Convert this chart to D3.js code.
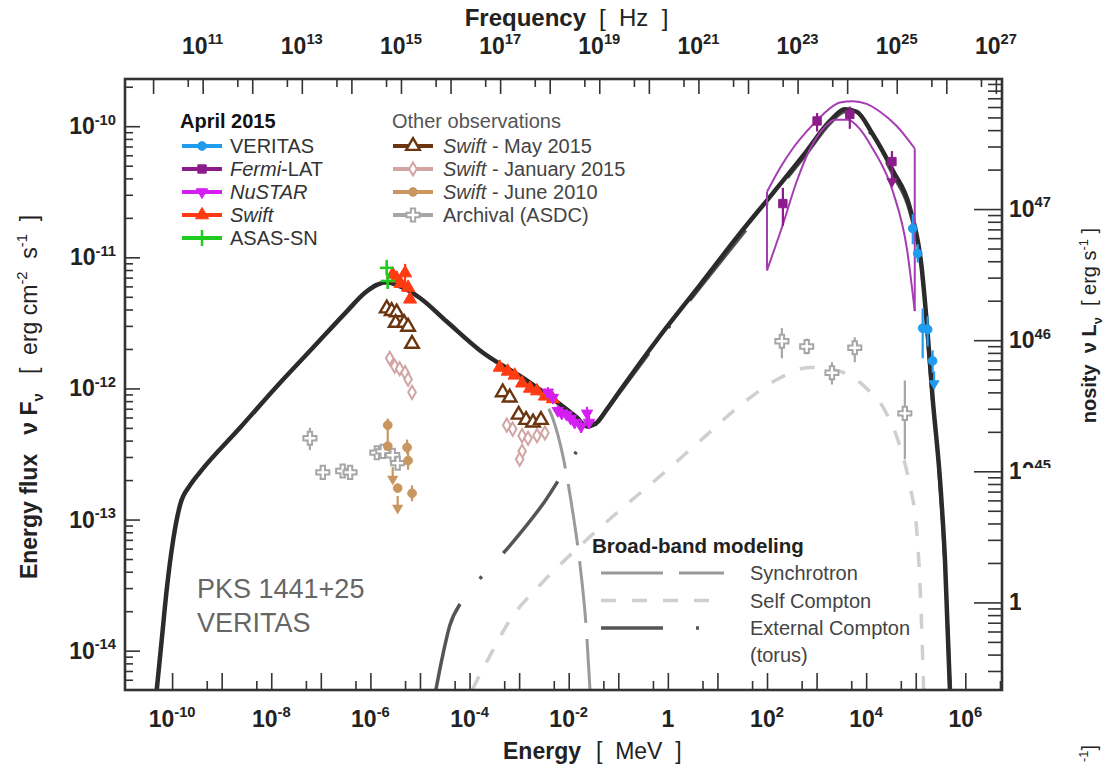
<!DOCTYPE html>
<html>
<head>
<meta charset="utf-8">
<script src="https://cdn.jsdelivr.net/npm/d3@7"></script>
<style>
  body { margin: 0; background: #fff; }
  text { font-family: "Liberation Sans", Arial, sans-serif; white-space: pre; }
</style>
</head>
<body>
<svg id="chart" width="1105" height="767"></svg>
<script>
// All values are log10: [log10 E (MeV), log10 νFν (erg cm^-2 s^-1), log10 lower, log10 upper]

// ---- broad-band model curves ----
const totalModel = [[-10.31,-14.30],[-10.21,-13.92],[-10.11,-13.54],[-9.98,-13.16],[-9.84,-12.89],[-9.64,-12.74],[-9.44,-12.64],[-8.63,-12.30],[-7.83,-11.96],[-7.16,-11.69],[-6.47,-11.41],[-6.11,-11.27],[-5.87,-11.21],[-5.67,-11.19],[-5.41,-11.22],[-5.00,-11.31],[-4.46,-11.49],[-3.79,-11.71],[-2.84,-11.94],[-2.18,-12.12],[-1.84,-12.22],[-1.63,-12.29],[-1.43,-12.26],[-1.23,-12.16],[-0.97,-12.02],[-0.16,-11.60],[0.65,-11.21],[1.45,-10.82],[2.12,-10.51],[2.80,-10.19],[3.27,-9.96],[3.57,-9.87],[3.81,-9.89],[4.13,-10.06],[4.54,-10.34],[4.88,-10.62],[5.12,-11.08],[5.24,-11.58],[5.34,-12.07],[5.49,-12.70],[5.59,-13.31],[5.69,-14.30]];
const synchrotron = [[-10.31,-14.30],[-10.21,-13.92],[-10.11,-13.54],[-9.98,-13.16],[-9.84,-12.89],[-9.64,-12.74],[-9.44,-12.64],[-8.63,-12.30],[-7.83,-11.96],[-7.16,-11.69],[-6.47,-11.41],[-6.11,-11.27],[-5.87,-11.21],[-5.67,-11.19],[-5.41,-11.22],[-5.00,-11.31],[-4.46,-11.49],[-3.79,-11.71],[-2.84,-11.96],[-2.58,-12.05],[-2.32,-12.23],[-2.12,-12.51],[-1.94,-12.89],[-1.77,-13.35],[-1.65,-13.81],[-1.57,-14.30]];
const selfCompton = [[-3.95,-14.30],[-3.59,-14.04],[-3.19,-13.77],[-2.58,-13.50],[-1.77,-13.20],[-0.97,-12.93],[-0.16,-12.67],[0.65,-12.40],[1.59,-12.09],[2.26,-11.92],[2.86,-11.84],[3.47,-11.87],[4.01,-12.00],[4.38,-12.17],[4.68,-12.44],[4.88,-12.74],[5.02,-13.08],[5.10,-13.62],[5.16,-14.30]];
const externalCompton = [[-4.68,-14.30],[-4.56,-14.07],[-4.40,-13.81],[-4.15,-13.62],[-3.79,-13.45],[-3.19,-13.20],[-2.48,-12.86],[-1.84,-12.48],[-1.37,-12.23],[-0.97,-12.03],[-0.16,-11.62],[0.65,-11.23],[1.45,-10.85],[2.12,-10.53],[2.80,-10.21],[3.27,-9.98],[3.57,-9.89],[3.81,-9.91],[4.13,-10.08],[4.54,-10.37],[4.88,-10.65],[5.12,-11.10],[5.24,-11.61],[5.34,-12.09],[5.49,-12.73],[5.59,-13.34],[5.69,-14.30]];

// ---- Fermi-LAT butterfly ----
const fermiBowUpper = [[2.00,-10.50],[2.26,-10.32],[2.52,-10.17],[2.80,-10.04],[3.13,-9.91],[3.47,-9.82],[3.73,-9.81],[4.01,-9.83],[4.28,-9.89],[4.62,-10.00],[4.98,-10.17]];
const fermiBowLower = [[2.00,-11.10],[2.32,-10.75],[2.60,-10.42],[2.86,-10.18],[3.13,-10.02],[3.37,-9.95],[3.63,-9.95],[3.87,-10.02],[4.13,-10.17],[4.54,-10.50],[4.82,-10.93],[4.98,-11.41]];

// ---- April 2015 ----
const veritas = [[4.94,-10.78,-10.90,-10.67],[5.04,-10.97,-11.04,-10.90],[5.14,-11.54,-11.77,-11.39],[5.24,-11.55,-11.68,-11.45],[5.34,-11.79,-11.88,-11.71]];
const veritasUL = [[5.37,-11.87]];
const fermiLAT = [[2.32,-10.59,-10.76,-10.47],[3.01,-9.96,-10.04,-9.90],[3.67,-9.91,-10.02,-9.85],[4.52,-10.27,-10.33,-10.19]];
const fermiUL = [[4.52,-10.33]];
const nustar = [[-2.42,-12.03,-12.07,-11.99],[-2.32,-12.07,-12.11,-12.03],[-2.22,-12.17,-12.21,-12.13],[-2.14,-12.19,-12.23,-12.15],[-2.04,-12.20,-12.24,-12.16],[-1.96,-12.23,-12.27,-12.19],[-1.88,-12.26,-12.30,-12.22],[-1.75,-12.29,-12.34,-12.24],[-1.63,-12.19,-12.24,-12.14],[-1.59,-12.26,-12.31,-12.21]];
const swiftApr = [[-5.55,-11.13],[-5.47,-11.16],[-5.39,-11.20],[-5.30,-11.12,-11.26,-11.05],[-5.24,-11.23],[-5.20,-11.32],[-3.39,-11.84],[-3.23,-11.87],[-3.09,-11.90],[-2.94,-11.96],[-2.78,-12.00],[-2.64,-12.02],[-2.48,-12.06],[-2.32,-12.08]];
const asassn = [[-5.67,-11.08,-11.13,-11.03],[-5.65,-11.18,-11.24,-11.13]];

// ---- other observations ----
const swiftMay = [[-5.67,-11.39],[-5.57,-11.41],[-5.47,-11.42],[-5.49,-11.50],[-5.32,-11.50],[-5.24,-11.53],[-5.16,-11.66],[-3.33,-12.03],[-3.19,-12.07],[-3.01,-12.20],[-2.86,-12.24],[-2.72,-12.26],[-2.56,-12.24]];
const swiftJan = [[-5.61,-11.77],[-5.51,-11.83],[-5.41,-11.85],[-5.30,-11.88],[-5.24,-11.93],[-5.16,-12.03],[-3.25,-12.28],[-3.13,-12.31],[-2.94,-12.36],[-2.82,-12.38],[-2.64,-12.36],[-2.48,-12.34],[-2.94,-12.48],[-2.99,-12.54]];
const swiftJun2010 = [[-5.65,-12.28,-12.41,-12.23],[-5.65,-12.44],[-5.26,-12.45,-12.50,-12.39],[-5.24,-12.55,-12.62,-12.48],[-5.45,-12.76],[-5.16,-12.80,-12.86,-12.74]];
const swiftJun2010UL = [[-5.55,-12.60],[-5.45,-12.82]];
const archival = [[-7.22,-12.38,-12.47,-12.30],[-6.96,-12.64],[-6.56,-12.63],[-6.41,-12.64],[-5.87,-12.49],[-5.75,-12.48],[-5.55,-12.51],[-5.45,-12.57],[2.30,-11.64,-11.77,-11.54],[2.80,-11.68,-11.74,-11.62],[3.31,-11.88,-11.97,-11.80],[3.77,-11.69,-11.80,-11.61],[4.78,-12.19,-12.54,-11.94]];

// ---- axis ticks ----
const energyLabelExps = [-10,-8,-6,-4,-2,0,2,4,6];
const freqLabelExps = [11,13,15,17,19,21,23,25,27];
const fluxLabelExps = [-10,-11,-12,-13,-14];
const lumLabelExps = [47,46,45,44];

// ---- legends ----
const aprilLegend = [
  {parts:[{t:"VERITAS"}], color:"#1f9bef", sym:"circle"},
  {parts:[{t:"Fermi",i:true},{t:"-LAT"}], color:"#8c1c8c", sym:"square"},
  {parts:[{t:"NuSTAR",i:true}], color:"#d31ff2", sym:"down"},
  {parts:[{t:"Swift",i:true}], color:"#ff3b12", sym:"up"},
  {parts:[{t:"ASAS-SN"}], color:"#1fcc1f", sym:"bar"}
];
const otherLegend = [
  {parts:[{t:"Swift",i:true},{t:" - May 2015"}], color:"#6b3510", sym:"upOpen"},
  {parts:[{t:"Swift",i:true},{t:" - January 2015"}], color:"#d2a4a4", sym:"diamondOpen"},
  {parts:[{t:"Swift",i:true},{t:" - June 2010"}], color:"#c99660", sym:"circle"},
  {parts:[{t:"Archival (ASDC)"}], color:"#a6a6a6", sym:"crossOpen"}
];
const modelLegend = [
  {label:"Synchrotron", color:"#9a9a9a", dash:"62,16", width:3},
  {label:"Self Compton", color:"#cfcfcf", dash:"15,16", width:3.5},
  {label:"External Compton", color:"#555555", dash:"62,33,3,200", width:3.5}
];

// ---------------------------------------------------------------
const svg = d3.select("#chart");
const X0 = 125, X1 = 1002, Y0 = 79, Y1 = 690;
const HZ_PER_MEV = 2.417989e20;
const LUM_PER_FLUX = Math.pow(10, 57.632);

const x = d3.scaleLog().domain([Math.pow(10,-10.95), Math.pow(10,6.74)]).range([X0, X1]);
const y = d3.scaleLog().domain([Math.pow(10,-14.30), Math.pow(10,-9.64)]).range([Y1, Y0]);
const xf = d3.scaleLog().domain(x.domain().map(e => e * HZ_PER_MEV)).range([X0, X1]);
const yl = d3.scaleLog().domain(y.domain().map(f => f * LUM_PER_FLUX)).range([Y1, Y0]);

const toPt = d => ({e: Math.pow(10, d[0]), f: Math.pow(10, d[1]),
  lo: d[2] != null ? Math.pow(10, d[2]) : null, hi: d[3] != null ? Math.pow(10, d[3]) : null});

// rich text with super/subscripts
function rich(sel, parts, size) {
  let off = 0;
  parts.forEach(p => {
    const shift = p.sup ? -0.42 * size : p.sub ? 0.28 * size : 0;
    const ts = sel.append("tspan").text(p.t).attr("dy", shift - off);
    off = shift;
    if (p.sup || p.sub) ts.attr("font-size", size * 0.64);
    if (p.b != null) ts.attr("font-weight", p.b ? "bold" : "normal");
    if (p.i) ts.attr("font-style", "italic");
  });
  return sel;
}

// ---- clip ----
svg.append("defs").append("clipPath").attr("id", "plotClip")
  .append("rect").attr("x", X0).attr("y", Y0).attr("width", X1 - X0).attr("height", Y1 - Y0);

const plot = svg.append("g").attr("clip-path", "url(#plotClip)");

const line = d3.line().x(d => x(d.e)).y(d => y(d.f)).curve(d3.curveMonotoneX);

// model components
plot.append("path").datum(selfCompton.map(toPt)).attr("d", line)
  .attr("fill", "none").attr("stroke", "#cfcfcf").attr("stroke-width", 3.5).attr("stroke-dasharray", "15,16");
plot.append("path").datum(synchrotron.map(toPt)).attr("d", line)
  .attr("fill", "none").attr("stroke", "#9a9a9a").attr("stroke-width", 3).attr("stroke-dasharray", "62,16");
plot.append("path").datum(externalCompton.map(toPt)).attr("d", line)
  .attr("fill", "none").attr("stroke", "#555").attr("stroke-width", 3.5).attr("stroke-dasharray", "90,32,3,32");
plot.append("path").datum(totalModel.map(toPt)).attr("d", line)
  .attr("fill", "none").attr("stroke", "#2b2b2b").attr("stroke-width", 4.5).attr("stroke-linejoin", "round");

// Fermi butterfly
const bowU = fermiBowUpper.map(toPt), bowL = fermiBowLower.map(toPt);
const bowColor = "#a63cb3";
[bowU, bowL].forEach(arr => plot.append("path").datum(arr).attr("d", line)
  .attr("fill", "none").attr("stroke", bowColor).attr("stroke-width", 2));
[[bowU[0], bowL[0]], [bowU[bowU.length-1], bowL[bowL.length-1]]].forEach(([a, b]) =>
  plot.append("line").attr("x1", x(a.e)).attr("x2", x(b.e)).attr("y1", y(a.f)).attr("y2", y(b.f))
    .attr("stroke", bowColor).attr("stroke-width", 2));

// markers
const symbolPath = {
  circle: d3.symbol().type(d3.symbolCircle).size(60)(),
  square: d3.symbol().type(d3.symbolSquare).size(70)(),
  up: d3.symbol().type(d3.symbolTriangle).size(75)(),
  down: d3.symbol().type(d3.symbolTriangle).size(55)(),
  upOpen: d3.symbol().type(d3.symbolTriangle).size(80)(),
  diamondOpen: d3.symbol().type(d3.symbolDiamond).size(50)(),
  crossOpen: d3.symbol().type(d3.symbolCross).size(95)()
};
function drawMarker(g, cx, cy, sym, color) {
  if (sym === "bar") {
    g.append("line").attr("x1", cx - 7).attr("x2", cx + 7).attr("y1", cy).attr("y2", cy)
      .attr("stroke", color).attr("stroke-width", 2.5);
    g.append("line").attr("x1", cx).attr("x2", cx).attr("y1", cy - 8).attr("y2", cy + 8)
      .attr("stroke", color).attr("stroke-width", 2.5);
    return;
  }
  const open = /Open/.test(sym);
  const p = g.append("path").attr("d", symbolPath[sym])
    .attr("transform", `translate(${cx},${cy})` + (sym === "down" ? " rotate(180)" : ""))
    .attr("fill", open ? "#fff" : color).attr("stroke", color).attr("stroke-width", open ? 2 : 1);
  if (sym === "upOpen") p.attr("stroke-width", 2.4);
}
function drawSeries(data, sym, color) {
  const g = plot.append("g");
  const pts = data.map(toPt);
  pts.forEach(p => {
    if (p.lo != null) g.append("line").attr("x1", x(p.e)).attr("x2", x(p.e))
      .attr("y1", y(p.lo)).attr("y2", y(p.hi)).attr("stroke", color).attr("stroke-width", 2.2);
    g.append("line").attr("x1", x(p.e) - 4).attr("x2", x(p.e) + 4).attr("y1", y(p.f)).attr("y2", y(p.f))
      .attr("stroke", color).attr("stroke-width", 1.6);
  });
  pts.forEach(p => drawMarker(g, x(p.e), y(p.f), sym, color));
}
function drawUpperLimits(data, color) {
  const g = plot.append("g");
  data.map(toPt).forEach(p => {
    const cx = x(p.e), cy = y(p.f);
    g.append("line").attr("x1", cx).attr("x2", cx).attr("y1", cy).attr("y2", cy + 10)
      .attr("stroke", color).attr("stroke-width", 2.2);
    g.append("path").attr("d", symbolPath.down).attr("transform", `translate(${cx},${cy + 12}) rotate(180)`)
      .attr("fill", color);
  });
}

drawSeries(archival, "crossOpen", "#a6a6a6");
drawSeries(swiftJun2010, "circle", "#c99660");
drawUpperLimits(swiftJun2010UL, "#c99660");
drawSeries(swiftJan, "diamondOpen", "#d2a4a4");
drawSeries(swiftMay, "upOpen", "#6b3510");
drawSeries(swiftApr, "up", "#ff3b12");
drawSeries(nustar, "down", "#d31ff2");
drawSeries(asassn, "bar", "#1fcc1f");
drawSeries(fermiLAT, "square", "#8c1c8c");
drawUpperLimits(fermiUL, "#8c1c8c");
drawSeries(veritas, "circle", "#1f9bef");
drawUpperLimits(veritasUL, "#1f9bef");

// ---- axes ----
const axisColor = "#333";
function styleAxis(g) {
  g.select(".domain").remove();
  g.selectAll(".tick line").attr("stroke", axisColor).attr("stroke-width", 1.6);
  g.selectAll(".tick text").remove();
}
const decades = (a, b) => d3.range(a, b + 1).map(k => Math.pow(10, k));
const fives = (a, b) => d3.range(a, b + 1).map(k => 5 * Math.pow(10, k));
const logMinors = (a, b) => d3.range(a, b + 1).flatMap(k => [2,3,4,5,6,7,8,9].map(m => m * Math.pow(10, k)));
const inDom = (sc) => v => v >= sc.domain()[0] && v <= sc.domain()[1];

// bottom: energy
svg.append("g").attr("transform", `translate(0,${Y1})`)
  .call(d3.axisTop(x).tickValues(decades(-11, 7).filter(inDom(x))).tickSize(17)).call(styleAxis);
svg.append("g").attr("transform", `translate(0,${Y1})`)
  .call(d3.axisTop(x).tickValues(fives(-11, 7).filter(inDom(x))).tickSize(9)).call(styleAxis);
// top: frequency
svg.append("g").attr("transform", `translate(0,${Y0})`)
  .call(d3.axisBottom(xf).tickValues(decades(10, 28).filter(inDom(xf))).tickSize(15)).call(styleAxis);
svg.append("g").attr("transform", `translate(0,${Y0})`)
  .call(d3.axisBottom(xf).tickValues(fives(10, 28).filter(inDom(xf))).tickSize(8)).call(styleAxis);
// left: flux
svg.append("g").attr("transform", `translate(${X0},0)`)
  .call(d3.axisRight(y).tickValues(decades(-15, -9).filter(inDom(y))).tickSize(15)).call(styleAxis);
svg.append("g").attr("transform", `translate(${X0},0)`)
  .call(d3.axisRight(y).tickValues(logMinors(-15, -10).filter(inDom(y))).tickSize(8)).call(styleAxis);
// right: luminosity
svg.append("g").attr("transform", `translate(${X1},0)`)
  .call(d3.axisLeft(yl).tickValues(decades(43, 48).filter(inDom(yl))).tickSize(28)).call(styleAxis);
svg.append("g").attr("transform", `translate(${X1},0)`)
  .call(d3.axisLeft(yl).tickValues(logMinors(42, 48).filter(inDom(yl))).tickSize(14)).call(styleAxis);

// frame
svg.append("rect").attr("x", X0).attr("y", Y0).attr("width", X1 - X0).attr("height", Y1 - Y0)
  .attr("fill", "none").attr("stroke", axisColor).attr("stroke-width", 2.6);

// tick labels
const TL = 23;
energyLabelExps.forEach(k => {
  const t = svg.append("text").attr("x", x(Math.pow(10, k))).attr("y", 727)
    .attr("text-anchor", "middle").attr("font-size", TL).attr("font-weight", "bold").attr("fill", "#222");
  if (k === 0) t.text("1"); else rich(t, [{t:"10"},{t:String(k), sup:true}], TL);
});
freqLabelExps.forEach(k => {
  const t = svg.append("text").attr("x", xf(Math.pow(10, k))).attr("y", 54)
    .attr("text-anchor", "middle").attr("font-size", TL).attr("font-weight", "bold").attr("fill", "#222");
  rich(t, [{t:"10"},{t:String(k), sup:true}], TL);
});
fluxLabelExps.forEach(k => {
  const t = svg.append("text").attr("x", 116).attr("y", y(Math.pow(10, k)) + 8)
    .attr("text-anchor", "end").attr("font-size", TL).attr("font-weight", "bold").attr("fill", "#222");
  rich(t, [{t:"10"},{t:String(k), sup:true}], TL);
});
lumLabelExps.forEach(k => {
  const t = svg.append("text").attr("x", 1009).attr("y", yl(Math.pow(10, k)) + 8)
    .attr("text-anchor", "start").attr("font-size", TL).attr("font-weight", "bold").attr("fill", "#222");
  rich(t, [{t:"10"},{t:String(k), sup:true}], TL);
});
// blank margin panel on the right edge (covers the lower luminosity labels)
svg.append("rect").attr("x", 1021).attr("y", 468).attr("width", 84).attr("height", 274).attr("fill", "#fff");

// axis titles
svg.append("text").attr("x", 586).attr("y", 26).attr("text-anchor", "end")
  .attr("font-size", 24).attr("font-weight", "bold").attr("fill", "#222").text("Frequency");
svg.append("text").attr("x", 599).attr("y", 26).attr("text-anchor", "start")
  .attr("font-size", 24).attr("fill", "#222").text("[  Hz  ]");
svg.append("text").attr("x", 581).attr("y", 759).attr("text-anchor", "end")
  .attr("font-size", 23).attr("font-weight", "bold").attr("fill", "#222").text("Energy");
svg.append("text").attr("x", 596).attr("y", 759).attr("text-anchor", "start")
  .attr("font-size", 23).attr("fill", "#222").text("[  MeV  ]");
rich(svg.append("text").attr("transform", "translate(37,397) rotate(-90)").attr("text-anchor", "middle")
  .attr("font-size", 23).attr("fill", "#222"),
  [{t:"Energy flux   ν F", b:true},{t:"ν", sub:true, b:true},{t:"   [  erg cm", b:false},{t:"-2", sup:true},
   {t:"  s", b:false},{t:"-1", sup:true},{t:"  ]", b:false}], 23);
rich(svg.append("text").attr("transform", "translate(1096,228) rotate(-90)").attr("text-anchor", "end")
  .attr("font-size", 20).attr("fill", "#222"),
  [{t:"nosity  ν L", b:true},{t:"ν", sub:true, b:true},{t:"  [ erg s", b:false},{t:"-1", sup:true},{t:" ]", b:false}], 20);
rich(svg.append("text").attr("transform", "translate(1096,745) rotate(-90)").attr("text-anchor", "end")
  .attr("font-size", 20).attr("fill", "#222"),
  [{t:"-1", sup:true},{t:"]", b:false}], 20);

// ---- legends ----
const LF = 20;
svg.append("text").attr("x", 180).attr("y", 128).attr("font-size", LF).attr("font-weight", "bold")
  .attr("fill", "#111").text("April 2015");
svg.append("text").attr("x", 392).attr("y", 128).attr("font-size", LF).attr("fill", "#555")
  .text("Other observations");
function legendColumn(entries, lx0, lx1, tx, textColor) {
  entries.forEach((d, i) => {
    const cy = 146 + i * 23;
    const g = svg.append("g");
    g.append("line").attr("x1", lx0).attr("x2", lx1).attr("y1", cy).attr("y2", cy)
      .attr("stroke", d.color).attr("stroke-width", 4);
    drawMarker(g, (lx0 + lx1) / 2, cy, d.sym, d.color);
    rich(svg.append("text").attr("x", tx).attr("y", cy + 7).attr("font-size", LF).attr("fill", textColor), d.parts, LF);
  });
}
legendColumn(aprilLegend, 182, 222, 230, "#333");
legendColumn(otherLegend, 393, 433, 443, "#444");

svg.append("text").attr("x", 592).attr("y", 553).attr("font-size", 20.5).attr("font-weight", "bold")
  .attr("fill", "#222").text("Broad-band modeling");
modelLegend.forEach((d, i) => {
  const cy = 573 + i * 27.5;
  svg.append("line").attr("x1", 601).attr("x2", 724).attr("y1", cy).attr("y2", cy)
    .attr("stroke", d.color).attr("stroke-width", d.width).attr("stroke-dasharray", d.dash);
  svg.append("text").attr("x", 750).attr("y", cy + 7).attr("font-size", LF).attr("fill", "#444").text(d.label);
});
svg.append("text").attr("x", 750).attr("y", 662).attr("font-size", LF).attr("fill", "#444").text("(torus)");

// source label
const src = svg.append("text").attr("font-family", "DejaVu Sans").attr("font-size", 27).attr("fill", "#666");
src.append("tspan").attr("x", 197).attr("y", 598).text("PKS 1441+25");
src.append("tspan").attr("x", 197).attr("y", 632).text("VERITAS");
</script>
</body>
</html>
